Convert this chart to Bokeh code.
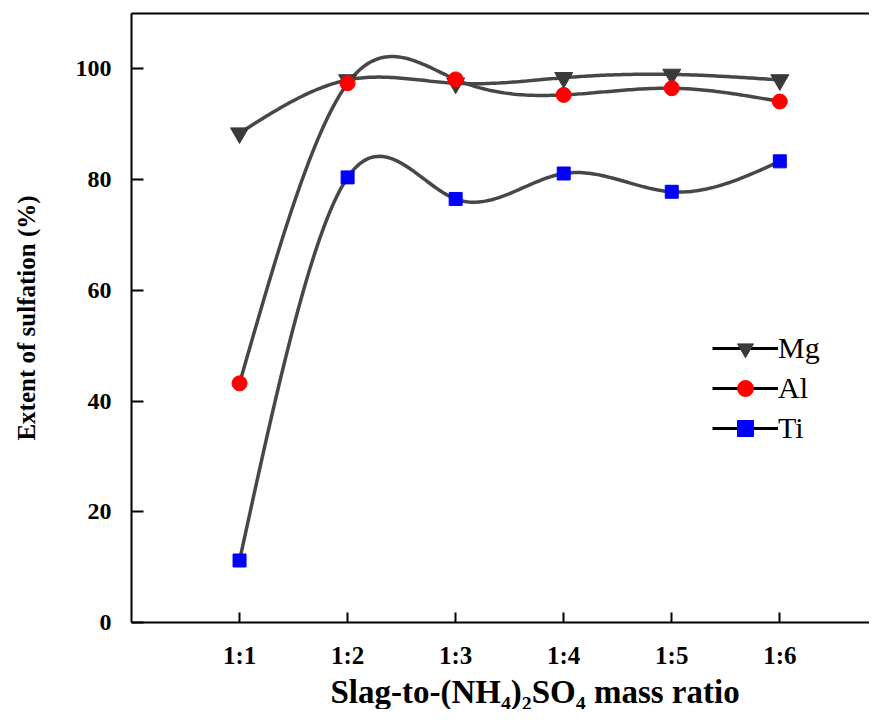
import numpy as np
from bokeh.plotting import figure
from bokeh.models import (Range1d, LinearAxis, FixedTicker, Legend, LegendItem,
                          ColumnDataSource, Title)
from bokeh.embed import file_html
from bokeh.resources import INLINE

# ---- data ----
ratios = ["1:1", "1:2", "1:3", "1:4", "1:5", "1:6"]
mg = [88.4, 98.0, 97.4, 98.4, 99.0, 98.0]
al = [43.2, 97.4, 98.1, 95.3, 96.5, 94.1]
ti = [11.2, 80.4, 76.5, 81.1, 77.8, 83.3]
y_ticks = [0, 20, 40, 60, 80, 100]

xpos = list(range(1, len(ratios) + 1))

SERIF = "Liberation Serif"
LINE_C = "#474747"


def natural_spline(xs, ys, n_per=40):
    xs = np.asarray(xs, float)
    ys = np.asarray(ys, float)
    n = len(xs)
    h = np.diff(xs)
    A = np.zeros((n, n))
    b = np.zeros(n)
    A[0, 0] = 1.0
    A[-1, -1] = 1.0
    for i in range(1, n - 1):
        A[i, i - 1] = h[i - 1]
        A[i, i] = 2 * (h[i - 1] + h[i])
        A[i, i + 1] = h[i]
        b[i] = 6 * ((ys[i + 1] - ys[i]) / h[i] - (ys[i] - ys[i - 1]) / h[i - 1])
    M = np.linalg.solve(A, b)
    out_x, out_y = [], []
    for i in range(n - 1):
        t = np.linspace(xs[i], xs[i + 1], n_per, endpoint=(i == n - 2))
        a = xs[i + 1] - t
        c = t - xs[i]
        yv = (M[i] * a ** 3 / (6 * h[i]) + M[i + 1] * c ** 3 / (6 * h[i])
              + (ys[i] / h[i] - M[i] * h[i] / 6) * a
              + (ys[i + 1] / h[i] - M[i + 1] * h[i] / 6) * c)
        out_x.extend(t.tolist())
        out_y.extend(yv.tolist())
    return out_x, out_y


p = figure(width=869, height=709, output_backend="svg", toolbar_location=None,
           x_range=Range1d(0, 6.83), y_range=Range1d(0, 110),
           min_border_left=131, min_border_right=0, min_border_top=13,
           min_border_bottom=0)
p.outline_line_color = None
p.grid.visible = False
p.background_fill_color = "white"
p.border_fill_color = "white"

# axes styling
for ax in [p.xaxis[0], p.yaxis[0]]:
    ax.axis_line_width = 2
    ax.axis_line_color = "black"
    ax.major_tick_line_width = 2
    ax.major_tick_line_color = "black"
    ax.major_tick_out = 0
    ax.minor_tick_line_color = None
    ax.major_label_text_font = SERIF
    ax.major_label_text_font_style = "bold"
    ax.major_label_text_color = "black"
    ax.axis_label_text_font = SERIF
    ax.axis_label_text_font_style = "bold"
    ax.axis_label_text_color = "black"

p.yaxis[0].ticker = FixedTicker(ticks=y_ticks)
p.yaxis[0].major_tick_in = 12
p.yaxis[0].major_label_standoff = 20
p.yaxis[0].major_label_text_font_size = "24px"
p.yaxis[0].axis_label = "Extent of sulfation (%)"
p.yaxis[0].axis_label_text_font_size = "25px"
p.yaxis[0].axis_label_standoff = 33

p.xaxis[0].ticker = FixedTicker(ticks=xpos)
p.xaxis[0].major_label_overrides = {x: r for x, r in zip(xpos, ratios)}
p.xaxis[0].major_tick_in = 10
p.xaxis[0].major_label_standoff = 19
p.xaxis[0].major_label_text_font_size = "25px"

# x-axis title, shifted right as in the original
xtitle = Title(text="Slag-to-(NH\u2084)\u2082SO\u2084 mass ratio",
               align="left", offset=199, standoff=0,
               text_font=SERIF, text_font_style="bold", text_font_size="33px",
               text_color="black")
p.add_layout(xtitle, "below")

# top border line
top = LinearAxis(major_tick_line_color=None, minor_tick_line_color=None,
                 major_label_text_font_size="0px", major_label_standoff=0,
                 major_tick_out=0, major_tick_in=0, axis_line_width=2,
                 axis_line_color="black", ticker=FixedTicker(ticks=[]))
p.add_layout(top, "above")

# curves
for ys in (mg, al, ti):
    sx, sy = natural_spline(xpos, ys)
    p.line(sx, sy, line_color=LINE_C, line_width=3.5)

r_mg = p.scatter(xpos, mg, marker="inverted_triangle", size=18,
                 fill_color="#3a3a3a", line_color="#3a3a3a")
r_al = p.scatter(xpos, al, marker="circle", size=15,
                 fill_color="#ff0000", line_color="#ff0000")
r_ti = p.scatter(xpos, ti, marker="square", size=13,
                 fill_color="#0000ff", line_color="#0000ff")

# legend-only line (placed outside the visible range)
offscreen = ColumnDataSource(data=dict(x=[-10, -9], y=[-10, -10]))
dummy = p.line("x", "y", source=offscreen, line_color="black", line_width=3)

legend = Legend(items=[LegendItem(label="Mg", renderers=[dummy, r_mg]),
                       LegendItem(label="Al", renderers=[dummy, r_al]),
                       LegendItem(label="Ti", renderers=[dummy, r_ti])],
                location=(581, 174), orientation="vertical",
                glyph_width=66, glyph_height=40, label_height=40,
                label_standoff=0, spacing=0, padding=0, margin=0,
                border_line_color=None, background_fill_alpha=0,
                label_text_font=SERIF, label_text_font_size="30px",
                label_text_color="black")
p.add_layout(legend, "center")

open("out.html", "w").write(file_html(p, INLINE))
